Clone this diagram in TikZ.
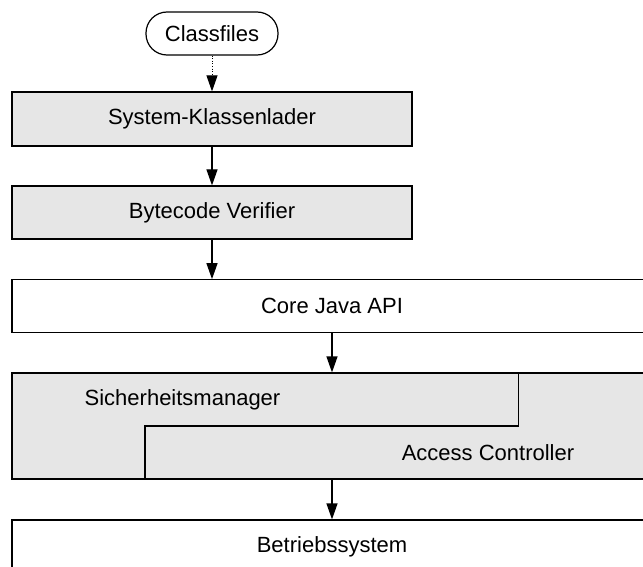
\documentclass[tikz,border=0pt]{standalone}
\usepackage{fontspec}
\setmainfont{Liberation Sans}
\usetikzlibrary{arrows.meta}
\definecolor{boxgray}{RGB}{230,230,230}
\begin{document}
\begin{tikzpicture}[x=1pt,y=-1pt,
  txt/.style={font=\fontsize{22}{26}\selectfont, inner sep=0pt},
  box/.style={draw=black, line width=1.2pt, inner sep=0pt, font=\fontsize{22}{26}\selectfont},
  graybox/.style={box, fill=boxgray},
  whitebox/.style={box, fill=white},
  arr/.style={draw=black, line width=1.2pt, -{Triangle[length=16pt,width=11pt]}},
  dotarr/.style={draw=black, line width=1pt, dash pattern=on 1pt off 1.6pt, -{Triangle[length=16pt,width=11pt]}}
]
\clip (0,0) rectangle (643,567);
\fill[white] (0,0) rectangle (643,567);
\node[box, fill=white, rounded corners=21pt, minimum width=132pt, minimum height=43pt] (cls) at (212,33.5) {Classfiles};
\node[graybox, minimum width=400pt, minimum height=54pt] (skl) at (212,119) {System-Klassenlader};
\node[graybox, minimum width=400pt, minimum height=53pt] (bcv) at (212,212.5) {Bytecode Verifier};
\node[whitebox, minimum width=640pt, minimum height=52.5pt] (core) at (332,306) {Core Java API};
\node[graybox, minimum width=640pt, minimum height=106pt] (sec) at (332,426) {};
\node[whitebox, minimum width=640pt, minimum height=54pt] (os) at (332,547) {Betriebssystem};
\coordinate (d1) at (518.5,373);
\coordinate (d2) at (518.5,426);
\coordinate (d3) at (145,426);
\coordinate (d4) at (145,479);
\draw[line width=1.2pt] (d1) -- (d2) -- (d3) -- (d4);
\node[txt] (sm) at (182.5,400) {Sicherheitsmanager};
\node[txt] (ac) at (488,453) {Access Controller};
\draw[dotarr] (cls.south) -- (skl.north);
\draw[arr] (skl.south) -- (bcv.north);
\draw[arr] (bcv.south) -- (bcv.south |- core.north);
\draw[arr] (core.south) -- (sec.north);
\draw[arr] (sec.south) -- (os.north);
\end{tikzpicture}
\end{document}
